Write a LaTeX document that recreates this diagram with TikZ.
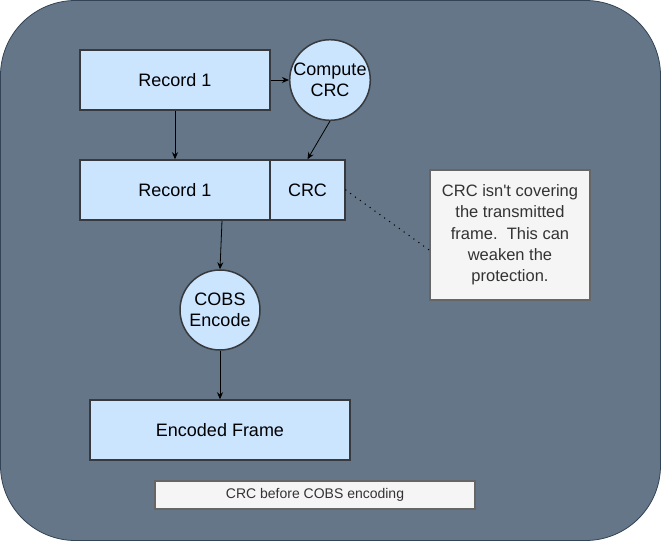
\documentclass[tikz,border=0pt]{standalone}
\usepackage{fontspec}
\setmainfont{Liberation Sans}
\usetikzlibrary{arrows.meta}
\definecolor{bgslate}{HTML}{647687}
\definecolor{bgline}{HTML}{314354}
\definecolor{boxfill}{HTML}{CCE5FF}
\definecolor{boxline}{HTML}{36393D}
\definecolor{notefill}{HTML}{F5F5F5}
\definecolor{noteline}{HTML}{666666}
\definecolor{notetext}{HTML}{333333}
\tikzset{
  x=1pt,y=-1pt,
  blk/.style={draw=boxline,fill=boxfill,line width=1.5pt,inner sep=0pt,font=\fontsize{18}{21}\selectfont},
  proc/.style={circle,draw=boxline,fill=boxfill,line width=1.5pt,inner sep=0pt,minimum size=80pt,align=center,font=\fontsize{18}{21.5}\selectfont},
  notebox/.style={draw=noteline,fill=notefill,line width=1.5pt,inner sep=0pt,align=center,text=notetext},
  arr/.style={-{Stealth[length=7pt,width=6pt]},line width=0.8pt,black},
}
\begin{document}
\begin{tikzpicture}
\useasboundingbox (0,0) rectangle (661,541);
\path[draw=bgline,fill=bgslate,line width=0.8pt,rounded corners=75pt] (0.5,0.5) rectangle (660.5,540.5);
\node[blk,minimum width=190pt,minimum height=60pt] (rec1) at (175,80) {Record 1};
\node[proc] (comp) at (330,80) {Compute\\CRC};
\node[blk,minimum width=190pt,minimum height=60pt] (rec2) at (175,190) {Record 1};
\node[blk,minimum width=75pt,minimum height=60pt] (crc) at (307.5,190) {CRC};
\node[proc] (cobs) at (220,310) {COBS\\Encode};
\node[blk,minimum width=260pt,minimum height=60pt] (enc) at (220,430) {Encoded Frame};
\node[notebox,minimum width=160pt,minimum height=130pt,font=\fontsize{16.5}{21.3}\selectfont] (note) at (510,235) {CRC isn\textquotesingle t covering\\the transmitted\\frame.\ \ This can\\weaken the\\protection.};
\node[notebox,minimum width=320pt,minimum height=28pt,font=\fontsize{14}{16}\selectfont] (cap) at (315,495) {CRC before COBS encoding};
\draw[arr] (rec1.east) -- (comp.west);
\draw[arr] (rec1.south) -- (rec2.north);
\draw[arr] (comp.south) -- (crc.north);
\draw[arr] (rec2.south -| 222,0) -- (cobs.north);
\draw[arr] (cobs.south) -- (enc.north);
\draw[line width=1.5pt,dash pattern=on 0pt off 6pt,line cap=round] (crc.east) -- (note.west |- 0,250);
\end{tikzpicture}
\end{document}
